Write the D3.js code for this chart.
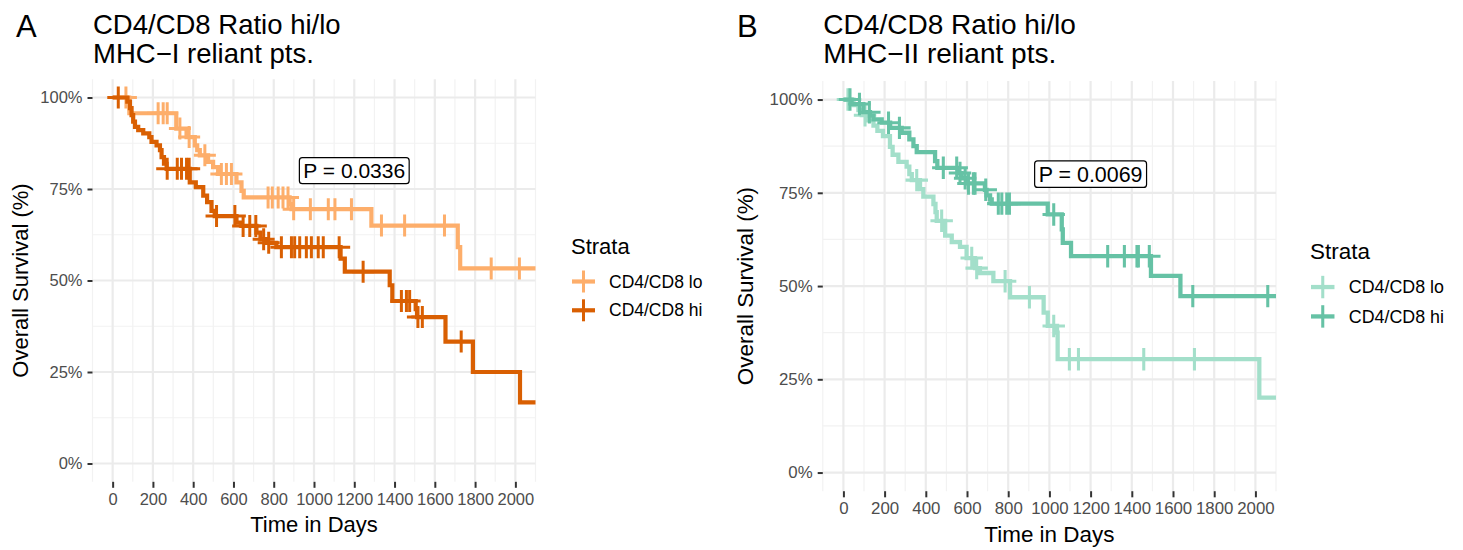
<!DOCTYPE html>
<html>
<head>
<meta charset="utf-8">
<script src="https://cdn.jsdelivr.net/npm/d3@7"></script>
<style>
  body { margin: 0; background: #fff; }
  svg { font-family: "Liberation Sans", Arial, Helvetica, sans-serif; }
</style>
</head>
<body>
<div id="chart"></div>
<script>
// Tick values and labels
const xTickValues = [0, 200, 400, 600, 800, 1000, 1200, 1400, 1600, 1800, 2000];
const yTickValues = [0, 0.25, 0.5, 0.75, 1];
const strataLabels = ["CD4/CD8 lo", "CD4/CD8 hi"];
const panelLetters = ["A", "B"];
const titleLine1 = ["CD4/CD8 Ratio hi/lo", "CD4/CD8 Ratio hi/lo"];
const titleLine2 = ["MHC\u2212I reliant pts.", "MHC\u2212II reliant pts."];
const pLabels = ["P = 0.0336", "P = 0.0069"];
const pPosition = [1200, 0.80];   // days, survival

// Panel A, CD4/CD8 lo : event times (days), survival after each event (%), censor times
const aLoTime = [83, 316, 367, 408, 420, 433, 474, 499, 524, 615, 640, 651, 879, 888, 1285, 1714, 1726];
const aLoSurv = [95.7, 91.5, 89.2, 86.9, 85.6, 84.2, 82.4, 81.0, 79.1, 76.8, 74.5, 72.7, 70.9, 69.5, 65.0, 59.1, 53.3];
const aLoCensor = [66, 226, 251, 271, 334, 380, 458, 540, 565, 590, 772, 793, 822, 846, 871, 899, 982,
                   1071, 1104, 1186, 1335, 1450, 1648, 1880, 2020];

// Panel A, CD4/CD8 hi
const aHiTime = [73, 86, 94, 102, 111, 127, 152, 182, 193, 218, 235, 243, 255, 268, 383, 413, 450, 469, 491, 507,
                 615, 640, 714, 734, 764, 813, 1132, 1153, 1376, 1389, 1505, 1512, 1653, 1789, 2023];
const aHiSurv = [98.9, 97.1, 95.2, 93.4, 92.0, 91.1, 90.2, 89.2, 87.9, 86.9, 85.6, 83.7, 81.9, 80.5, 76.8, 75.5, 73.2, 71.4, 69.0, 67.6,
                 65.8, 64.9, 63.1, 61.3, 60.3, 59.1, 56.0, 52.4, 48.7, 44.4, 42.2, 40.0, 33.3, 25.0, 16.7];
const aHiCensor = [28, 271, 321, 342, 367, 380, 516, 607, 648, 681, 711, 750, 775, 838, 888, 904, 929, 962, 987,
                   1021, 1046, 1125, 1244, 1434, 1459, 1475, 1516, 1538, 1731];

// Panel B, CD4/CD8 lo
const bLoTime = [49, 73, 89, 113, 146, 165, 192, 226, 239, 267, 307, 320, 332, 372, 388, 437, 447, 453, 494, 526,
                 566, 598, 639, 663, 728, 809, 972, 992, 1037, 1040, 2019];
const bLoSurv = [98.5, 97.2, 95.8, 94.4, 93.0, 91.6, 90.2, 87.3, 85.2, 83.3, 82.0, 80.0, 78.4, 76.0, 74.0, 72.0, 69.8, 67.5, 63.5, 61.8,
                 60.5, 57.5, 54.8, 53.5, 51.3, 47.0, 42.9, 39.3, 37.5, 30.4, 20.1];
const bLoCensor = [22, 105, 356, 477, 623, 647, 785, 903, 1021, 1097, 1141, 1458, 1704];

// Panel B, CD4/CD8 hi
const bHiTime = [40, 97, 129, 146, 186, 227, 283, 320, 340, 356, 445, 456, 558, 574, 598, 687, 695, 712, 720,
                 992, 1060, 1065, 1105, 1493, 1636];
const bHiSurv = [98.8, 96.6, 95.7, 94.7, 93.8, 92.4, 91.1, 89.3, 87.5, 85.9, 83.5, 81.7, 80.3, 78.9, 77.5, 75.8, 74.3, 73.2, 72.1,
                 69.2, 65.2, 61.6, 58.0, 52.7, 47.3];
const bHiCensor = [32, 78, 126, 219, 272, 485, 550, 566, 591, 607, 631, 639, 691, 752, 769, 793, 806,
                   1021, 1283, 1364, 1425, 1432, 1485, 1696, 2060];

const colorsA = ["#FDAE6B", "#D95F02"];
const colorsB = ["#A3DFCA", "#66C2A5"];

const svg = d3.select("#chart").append("svg")
    .attr("width", 1463)
    .attr("height", 550);

// step function value at time t
function survAt(times, surv, t) {
    let s = 1;
    for (let i = 0; i < times.length; i++) {
        if (times[i] <= t) s = surv[i] / 100;
    }
    return s;
}

function drawPanel(cfg) {
    const k = cfg.scale;
    const x = d3.scaleLinear().domain([-100, 2100]).range([cfg.left, cfg.right]);
    const y = d3.scaleLinear().domain([-0.05, 1.05]).range([cfg.bottom, cfg.top]);
    const g = svg.append("g");

    // grid: minor then major
    const minorX = d3.range(-100, 2101, 200);
    const minorY = [0.125, 0.375, 0.625, 0.875];
    g.selectAll(".minx").data(minorX).enter().append("line")
        .attr("x1", d => x(d)).attr("x2", d => x(d))
        .attr("y1", cfg.top).attr("y2", cfg.bottom)
        .attr("stroke", "#f2f2f2").attr("stroke-width", 1.2);
    g.selectAll(".miny").data(minorY).enter().append("line")
        .attr("x1", cfg.left).attr("x2", cfg.right)
        .attr("y1", d => y(d)).attr("y2", d => y(d))
        .attr("stroke", "#f2f2f2").attr("stroke-width", 1.2);
    g.selectAll(".majx").data(xTickValues).enter().append("line")
        .attr("x1", d => x(d)).attr("x2", d => x(d))
        .attr("y1", cfg.top).attr("y2", cfg.bottom)
        .attr("stroke", "#ebebeb").attr("stroke-width", 2.2);
    g.selectAll(".majy").data(yTickValues).enter().append("line")
        .attr("x1", cfg.left).attr("x2", cfg.right)
        .attr("y1", d => y(d)).attr("y2", d => y(d))
        .attr("stroke", "#ebebeb").attr("stroke-width", 2.2);

    // axes
    const yAxis = g.append("g")
        .attr("transform", `translate(${cfg.left},0)`)
        .call(d3.axisLeft(y).tickValues(yTickValues).tickFormat(d3.format(".0%")).tickSize(5 * k).tickPadding(5 * k));
    const xAxis = g.append("g")
        .attr("transform", `translate(0,${cfg.bottom})`)
        .call(d3.axisBottom(x).tickValues(xTickValues).tickFormat(d3.format("d")).tickSize(6 * k).tickPadding(5 * k));
    [yAxis, xAxis].forEach(a => {
        a.select(".domain").remove();
        a.selectAll(".tick line").attr("stroke", "#333").attr("stroke-width", 2);
        a.selectAll(".tick text").attr("fill", "#4d4d4d")
            .style("font-size", (16.5 * k) + "px")
            .style("font-family", "'Liberation Sans', Arial, sans-serif");
    });

    // curves
    const clipId = "clip" + cfg.letter;
    svg.append("clipPath").attr("id", clipId).append("rect")
        .attr("x", cfg.left).attr("y", cfg.top - 15)
        .attr("width", cfg.right - cfg.left).attr("height", cfg.bottom - cfg.top + 30);
    const plot = g.append("g").attr("clip-path", `url(#${clipId})`);
    const line = d3.line().x(d => x(d[0])).y(d => y(d[1])).curve(d3.curveStepAfter);

    cfg.groups.forEach((grp, i) => {
        const pts = [[0, 1]].concat(grp.time.map((t, j) => [t, grp.surv[j] / 100]));
        pts.push([2200, grp.surv[grp.surv.length - 1] / 100]);
        plot.append("path").datum(pts)
            .attr("d", line)
            .attr("fill", "none")
            .attr("stroke", cfg.colors[i])
            .attr("stroke-width", 4.2 * k);
        const cens = plot.append("g");
        const half = 11 * k;
        grp.censor.forEach(c => {
            const cx = x(c), cy = y(survAt(grp.time, grp.surv, c));
            cens.append("line").attr("x1", cx).attr("x2", cx).attr("y1", cy - half).attr("y2", cy + half)
                .attr("stroke", cfg.colors[i]).attr("stroke-width", 3 * k);
            cens.append("line").attr("x1", cx - half).attr("x2", cx + half).attr("y1", cy).attr("y2", cy)
                .attr("stroke", cfg.colors[i]).attr("stroke-width", 3 * k);
        });
    });

    // p-value label
    const pg = g.append("g");
    const pt = pg.append("text")
        .attr("x", x(pPosition[0])).attr("y", y(pPosition[1]))
        .attr("dy", "0.35em")
        .attr("text-anchor", "middle")
        .style("font-size", (21 * k) + "px")
        .text(cfg.pLabel);
    const bb = pt.node().getBBox();
    pg.insert("rect", "text")
        .attr("x", bb.x - 4 * k).attr("y", y(pPosition[1]) - 13 * k)
        .attr("width", bb.width + 8 * k).attr("height", 26 * k)
        .attr("rx", 3).attr("ry", 3)
        .attr("fill", "#fff").attr("stroke", "#000").attr("stroke-width", 1.2);

    // titles
    g.append("text").attr("x", cfg.letterX).attr("y", 36.5)
        .style("font-size", "31px").text(cfg.letter);
    g.append("text").attr("x", cfg.left + 0.5).attr("y", 34)
        .style("font-size", (27.5 * k) + "px").text(cfg.title1);
    g.append("text").attr("x", cfg.left + 0.5).attr("y", 62.5)
        .style("font-size", (27.5 * k) + "px").text(cfg.title2);

    // axis titles
    g.append("text")
        .attr("x", (cfg.left + cfg.right) / 2).attr("y", cfg.bottom + 50 * k)
        .attr("text-anchor", "middle")
        .style("font-size", (22 * k) + "px")
        .text("Time in Days");
    g.append("text")
        .attr("transform", `translate(${cfg.yTitleX},${(cfg.top + cfg.bottom) / 2}) rotate(-90)`)
        .attr("text-anchor", "middle")
        .style("font-size", (22 * k) + "px")
        .text("Overall Survival (%)");

    // legend
    const lg = g.append("g").attr("transform", `translate(${cfg.legendX},${cfg.legendY})`);
    lg.append("text").attr("x", 0).attr("y", 0)
        .style("font-size", (22 * k) + "px").text("Strata");
    strataLabels.forEach((lab, i) => {
        const cy = (27.5 + 28.8 * i) * k;
        const cx = 12.5 * k;
        lg.append("line").attr("x1", cx - 11.5 * k).attr("x2", cx + 11.5 * k).attr("y1", cy).attr("y2", cy)
            .attr("stroke", cfg.colors[i]).attr("stroke-width", 4.2 * k);
        lg.append("line").attr("x1", cx).attr("x2", cx).attr("y1", cy - 11 * k).attr("y2", cy + 11 * k)
            .attr("stroke", cfg.colors[i]).attr("stroke-width", 3 * k);
        lg.append("text").attr("x", 38 * k).attr("y", cy).attr("dy", "0.35em")
            .style("font-size", (17.5 * k) + "px").text(lab);
    });
}

drawPanel({
    letter: panelLetters[0], letterX: 16, scale: 1,
    left: 92.5, right: 535.5, top: 79.2, bottom: 481.8,
    yTitleX: 27.5, legendX: 571, legendY: 254,
    title1: titleLine1[0], title2: titleLine2[0], pLabel: pLabels[0],
    colors: colorsA,
    groups: [
        { time: aLoTime, surv: aLoSurv, censor: aLoCensor },
        { time: aHiTime, surv: aHiSurv, censor: aHiCensor }
    ]
});

drawPanel({
    letter: panelLetters[1], letterX: 737, scale: 1.02,
    left: 822.8, right: 1276, top: 80.9, bottom: 491.2,
    yTitleX: 753, legendX: 1310, legendY: 259,
    title1: titleLine1[1], title2: titleLine2[1], pLabel: pLabels[1],
    colors: colorsB,
    groups: [
        { time: bLoTime, surv: bLoSurv, censor: bLoCensor },
        { time: bHiTime, surv: bHiSurv, censor: bHiCensor }
    ]
});
</script>
</body>
</html>
